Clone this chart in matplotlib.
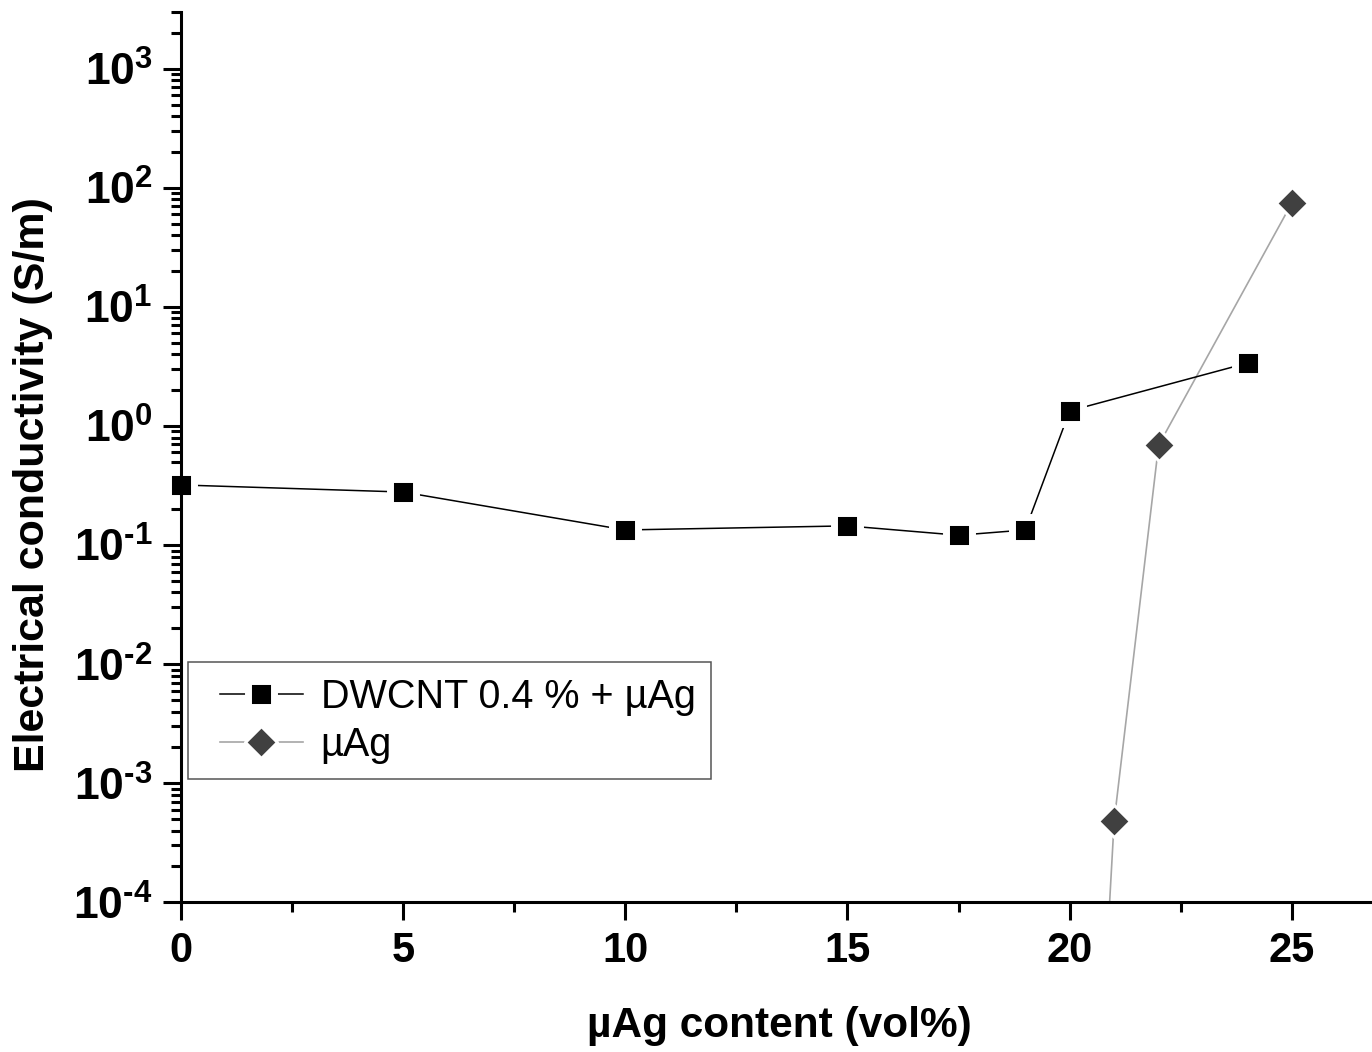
import numpy as np
import matplotlib
matplotlib.use("Agg")
import matplotlib.pyplot as plt
from matplotlib.markers import MarkerStyle
from matplotlib.legend_handler import HandlerLine2D
from matplotlib.ticker import LogLocator, NullFormatter, FuncFormatter, MultipleLocator

plt.rcParams['font.family'] = ['Liberation Sans', 'DejaVu Sans']
plt.rcParams['mathtext.fontset'] = 'custom'
plt.rcParams['mathtext.rm'] = 'Liberation Sans:bold'
plt.rcParams['mathtext.it'] = 'Liberation Sans:bold'
plt.rcParams['mathtext.bf'] = 'Liberation Sans:bold'

# data
ag_dwcnt = [0, 5, 10, 15, 17.5, 19, 20, 24]
sigma_dwcnt = [0.32, 0.279, 0.134, 0.145, 0.121, 0.134, 1.34, 3.38]

ag_only = [20, 21, 22, 25]
sigma_ag = [1e-10, 4.8e-4, 0.69, 75]

label_dwcnt = "DWCNT 0.4 % + µAg"
label_ag = "µAg"


def exp_label(v, pos):
    e = int(round(np.log10(v)))
    if e < 0:
        return r'$10^{\text{-}%d}$' % (-e)
    return r'$10^{%d}$' % e


fig = plt.figure(figsize=(13.72, 10.52), dpi=100)
ax = fig.add_axes([0.1316, 0.1423, 0.8684, 0.8463])

sq = MarkerStyle('s', joinstyle='round')
dia = MarkerStyle('D', joinstyle='round')

ax.plot(ag_dwcnt, sigma_dwcnt, color='black', lw=1.1, marker=sq, ms=18.5,
        mfc='black', mec='white', mew=5, clip_on=False, label=label_dwcnt, zorder=2.3)
ax.plot(ag_only, sigma_ag, color='#a6a6a6', lw=1.2, marker=dia, ms=16.5,
        mfc='#404040', mec='white', mew=2.2, label=label_ag, zorder=2)

ax.set_yscale('log')
ax.set_ylim(1e-4, 3000)
ax.set_xlim(0, 26.8)

ax.xaxis.set_major_locator(MultipleLocator(5))
ax.xaxis.set_minor_locator(MultipleLocator(2.5))
ax.yaxis.set_major_locator(LogLocator(base=10, numticks=20))
ax.yaxis.set_minor_locator(LogLocator(base=10, subs=np.arange(2, 10), numticks=20))
ax.yaxis.set_minor_formatter(NullFormatter())
ax.yaxis.set_major_formatter(FuncFormatter(exp_label))

for s in ['top', 'right']:
    ax.spines[s].set_visible(False)
for s in ['left', 'bottom']:
    ax.spines[s].set_linewidth(2.2)

ax.tick_params(which='major', direction='out', length=13, width=2.2, labelsize=30, pad=8)
ax.tick_params(which='minor', direction='out', length=7, width=2.2)
ax.tick_params(axis='y', which='major', labelsize=32, pad=7)
for lab in ax.get_xticklabels():
    lab.set_fontweight('bold')

ax.set_xlabel("µAg content (vol%)", fontsize=30.5, fontweight='bold')
ax.set_ylabel("Electrical conductivity (S/m)", fontsize=31, fontweight='bold')
ax.xaxis.set_label_coords(0.503, -0.117)
ax.yaxis.set_label_coords(-0.107, 0.469)

hmap = {ln: HandlerLine2D(xpad=0.4) for ln in ax.get_lines()}
leg = ax.legend(loc='upper left', bbox_to_anchor=(0.0063, 0.27), borderaxespad=0,
                fontsize=28.5, frameon=True, fancybox=False, framealpha=1,
                edgecolor='#555555', handlelength=2.5, handletextpad=0.45,
                borderpad=0.4, labelspacing=0.25, handler_map=hmap)
leg.get_frame().set_linewidth(1.1)

fig.savefig("out.png", dpi=100)
